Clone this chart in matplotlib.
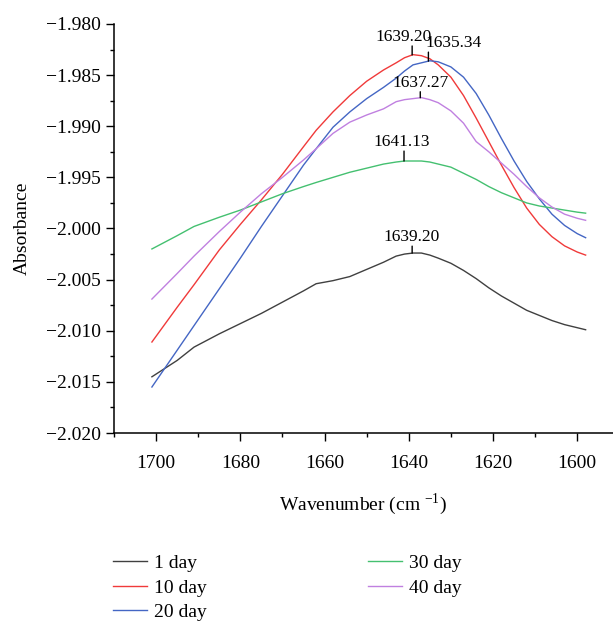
import numpy as np
import matplotlib
matplotlib.use("Agg")
import matplotlib.pyplot as plt
from matplotlib.ticker import MultipleLocator, FuncFormatter

plt.rcParams['font.family'] = ['Liberation Serif', 'DejaVu Serif']
plt.rcParams['mathtext.fontset'] = 'custom'
plt.rcParams['mathtext.rm'] = 'Liberation Serif'

# wavenumber grid (cm^-1)
wavenumber = [1701, 1695, 1691, 1685, 1680, 1675, 1670, 1665, 1662, 1658, 1654,
              1650, 1646, 1643, 1641, 1639, 1637, 1635, 1633, 1630, 1627, 1624,
              1621, 1618, 1615, 1612, 1609, 1606, 1603, 1600, 1598]

day1 = [-2.0145, -2.0129, -2.0116, -2.0103, -2.0093, -2.0083, -2.0072, -2.0061,
        -2.0054, -2.0051, -2.0047, -2.0040, -2.0033, -2.0027, -2.0025, -2.0024,
        -2.0024, -2.0026, -2.0029, -2.0034, -2.0041, -2.0049, -2.0058, -2.0066,
        -2.0073, -2.0080, -2.0085, -2.0090, -2.0094, -2.0097, -2.0099]
day10 = [-2.0111, -2.0077, -2.0055, -2.0021, -1.9996, -1.9972, -1.9947, -1.9920,
         -1.9904, -1.9886, -1.9870, -1.9856, -1.9845, -1.9838, -1.9833, -1.9830,
         -1.9831, -1.9834, -1.9840, -1.9852, -1.9870, -1.9892, -1.9915, -1.9938,
         -1.9960, -1.9980, -1.9996, -2.0008, -2.0017, -2.0023, -2.0026]
day20 = [-2.0155, -2.0119, -2.0095, -2.0059, -2.0029, -1.9998, -1.9968, -1.9938,
         -1.9922, -1.9901, -1.9886, -1.9873, -1.9862, -1.9853, -1.9846, -1.9840,
         -1.9838, -1.9836, -1.9837, -1.9842, -1.9852, -1.9868, -1.9889, -1.9912,
         -1.9934, -1.9954, -1.9971, -1.9986, -1.9997, -2.0005, -2.0009]
day30 = [-2.0020, -2.0007, -1.9998, -1.9989, -1.9982, -1.9974, -1.9966, -1.9959,
         -1.9955, -1.9950, -1.9945, -1.9941, -1.9937, -1.9935, -1.9934, -1.9934,
         -1.9934, -1.9935, -1.9937, -1.9940, -1.9946, -1.9952, -1.9959, -1.9965,
         -1.9970, -1.9975, -1.9978, -1.9980, -1.9982, -1.9984, -1.9985]
day40 = [-2.0069, -2.0044, -2.0027, -2.0003, -1.9984, -1.9966, -1.9950, -1.9933,
         -1.9922, -1.9907, -1.9896, -1.9889, -1.9883, -1.9876, -1.9874, -1.9873,
         -1.9872, -1.9874, -1.9877, -1.9885, -1.9897, -1.9915, -1.9925, -1.9936,
         -1.9947, -1.9959, -1.9970, -1.9979, -1.9986, -1.9990, -1.9992]

labels = ['1 day', '10 day', '20 day', '30 day', '40 day']
series = [day1, day10, day20, day30, day40]
colors = ['#404040', '#f03a3a', '#4466c4', '#44c070', '#c080e0']

# peak markers: (series index, peak wavenumber, text dx px, tick length px)
peaks = [(1, 1639.20, -9, 9), (2, 1635.34, 25, 9), (4, 1637.27, 0, 6),
         (3, 1641.13, -2, 10), (0, 1639.20, -1, 7)]

fig = plt.figure(figsize=(6.13, 6.21), dpi=100)
ax = fig.add_axes([0.186, 0.3027, 0.814, 0.6587])

for y, lab, c in zip(series, labels, colors):
    ax.plot(wavenumber, y, color=c, lw=1.0, label=lab)

for idx, wn, dx, ln in peaks:
    py = np.interp(wn, wavenumber[::-1], series[idx][::-1])
    ax.annotate('', xy=(wn, py), xytext=(0, ln * 0.72), textcoords='offset points',
                arrowprops=dict(arrowstyle='-', lw=1.0, color='black', shrinkA=0, shrinkB=0))
    ax.annotate(f'{wn:.2f}', xy=(wn, py), xytext=(dx * 0.72, ln * 0.72 + 0.5),
                textcoords='offset points', ha='center', va='bottom', fontsize=12.5)

ax.set_xlim(1710, 1591.5)
ax.set_ylim(-2.020, -1.980)
ax.xaxis.set_major_locator(MultipleLocator(20))
ax.xaxis.set_minor_locator(MultipleLocator(10))
ax.yaxis.set_major_locator(MultipleLocator(0.005))
ax.yaxis.set_minor_locator(MultipleLocator(0.0025))
ax.yaxis.set_major_formatter(FuncFormatter(lambda v, p: f'{v:.3f}'.replace('-', '\u2212')))
ax.tick_params(which='major', direction='out', length=6, width=1.0, labelsize=14)
ax.tick_params(which='minor', direction='out', length=3, width=1.0)
ax.tick_params(axis='x', pad=10)
for s in ['top', 'right']:
    ax.spines[s].set_visible(False)
for s in ['left', 'bottom']:
    ax.spines[s].set_linewidth(1.1)

ax.set_xlabel('Wavenumber (cm $^{-1}$)', fontsize=14, labelpad=14)
ax.set_ylabel('Absorbance', fontsize=14, labelpad=11)

fig.legend(loc='upper left', bbox_to_anchor=(0.1685, 0.123), ncol=2, frameon=False,
           fontsize=14, handlelength=1.75, columnspacing=8.3, labelspacing=0.36,
           handletextpad=0.35, borderpad=0)

fig.savefig('out.png', dpi=100)
